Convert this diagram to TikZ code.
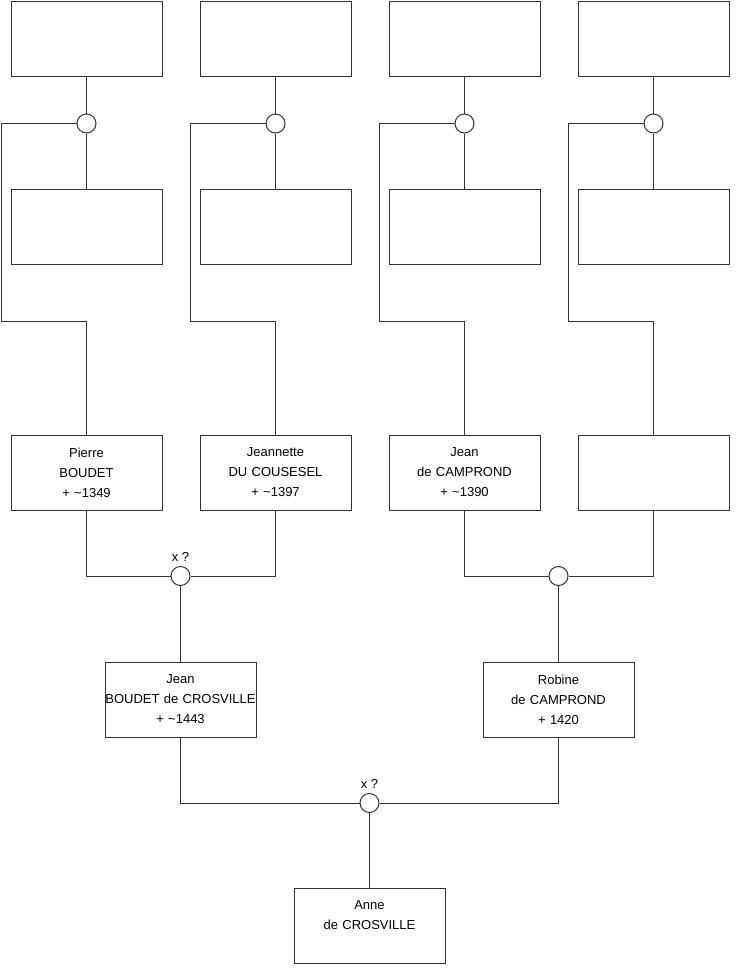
\documentclass[tikz,border=0pt]{standalone}
\usepackage{fontspec}
\setmainfont{Liberation Sans}

\begin{document}
\begin{tikzpicture}[x=0.75pt,y=-0.75pt,
  person/.style={draw=black!80,line width=0.75pt,minimum width=113.25pt,
    minimum height=56.25pt,text width=113.25pt,inner sep=0pt,align=center,
    font=\fontsize{9.75}{15}\selectfont},
  union/.style={draw=black!80,line width=0.75pt,circle,minimum size=14.25pt,
    inner sep=0pt,fill=white},
  link/.style={draw=black!80,line width=0.75pt},
  every label/.style={font=\fontsize{9.75}{12}\selectfont}]

\useasboundingbox (0,0) rectangle (740,975);

% top two rows, unknown ancestors
\foreach \i/\x in {1/86.5,2/275.5,3/464.5,4/653.5}{
  \node[person] (a\i) at (\x,38.5) {};
  \node[person] (b\i) at (\x,227) {};
  \node[union] (u\i) at (\x,123.5) {};
  \draw[link] (a\i) -- (u\i) -- (b\i);
}

% known grandparents
\node[person] (p1) at (86.5,472.5) {Pierre\\BOUDET\\+ \textasciitilde1349};
\node[person] (p2) at (275.5,472.5) {Jeannette\\DU COUSESEL\\+ \textasciitilde1397};
\node[person] (p3) at (464.5,472.5) {Jean\\de CAMPROND\\+ \textasciitilde1390};
\node[person] (p4) at (653.5,472.5) {};

\foreach \i/\x in {1/1,2/190,3/379,4/568}{
  \coordinate (k\i) at (\x,321);
  \draw[link] (u\i.west) -| (k\i) -| (p\i.north);
}

% parents
\node[union,label={above:x ?}] (m1) at (180.5,576) {};
\node[union] (m2) at (558.5,576) {};
\node[person] (q1) at (180.5,699.5) {Jean\\BOUDET de CROSVILLE\\+ \textasciitilde1443};
\node[person] (q2) at (558.5,699.5) {Robine\\de CAMPROND\\+ 1420};

\draw[link] (p1.south) |- (m1.west);
\draw[link] (m1.east) -| (p2.south);
\draw[link] (m1) -- (q1);
\draw[link] (p3.south) |- (m2.west);
\draw[link] (m2.east) -| (p4.south);
\draw[link] (m2) -- (q2);

% child
\node[union,label={above:x ?}] (m3) at (369.5,803) {};
\node[person] (r) at (369.5,925.5) {Anne\\de CROSVILLE\\\mbox{}};

\draw[link] (q1.south) |- (m3.west);
\draw[link] (m3.east) -| (q2.south);
\draw[link] (m3) -- (r);

\end{tikzpicture}
\end{document}
